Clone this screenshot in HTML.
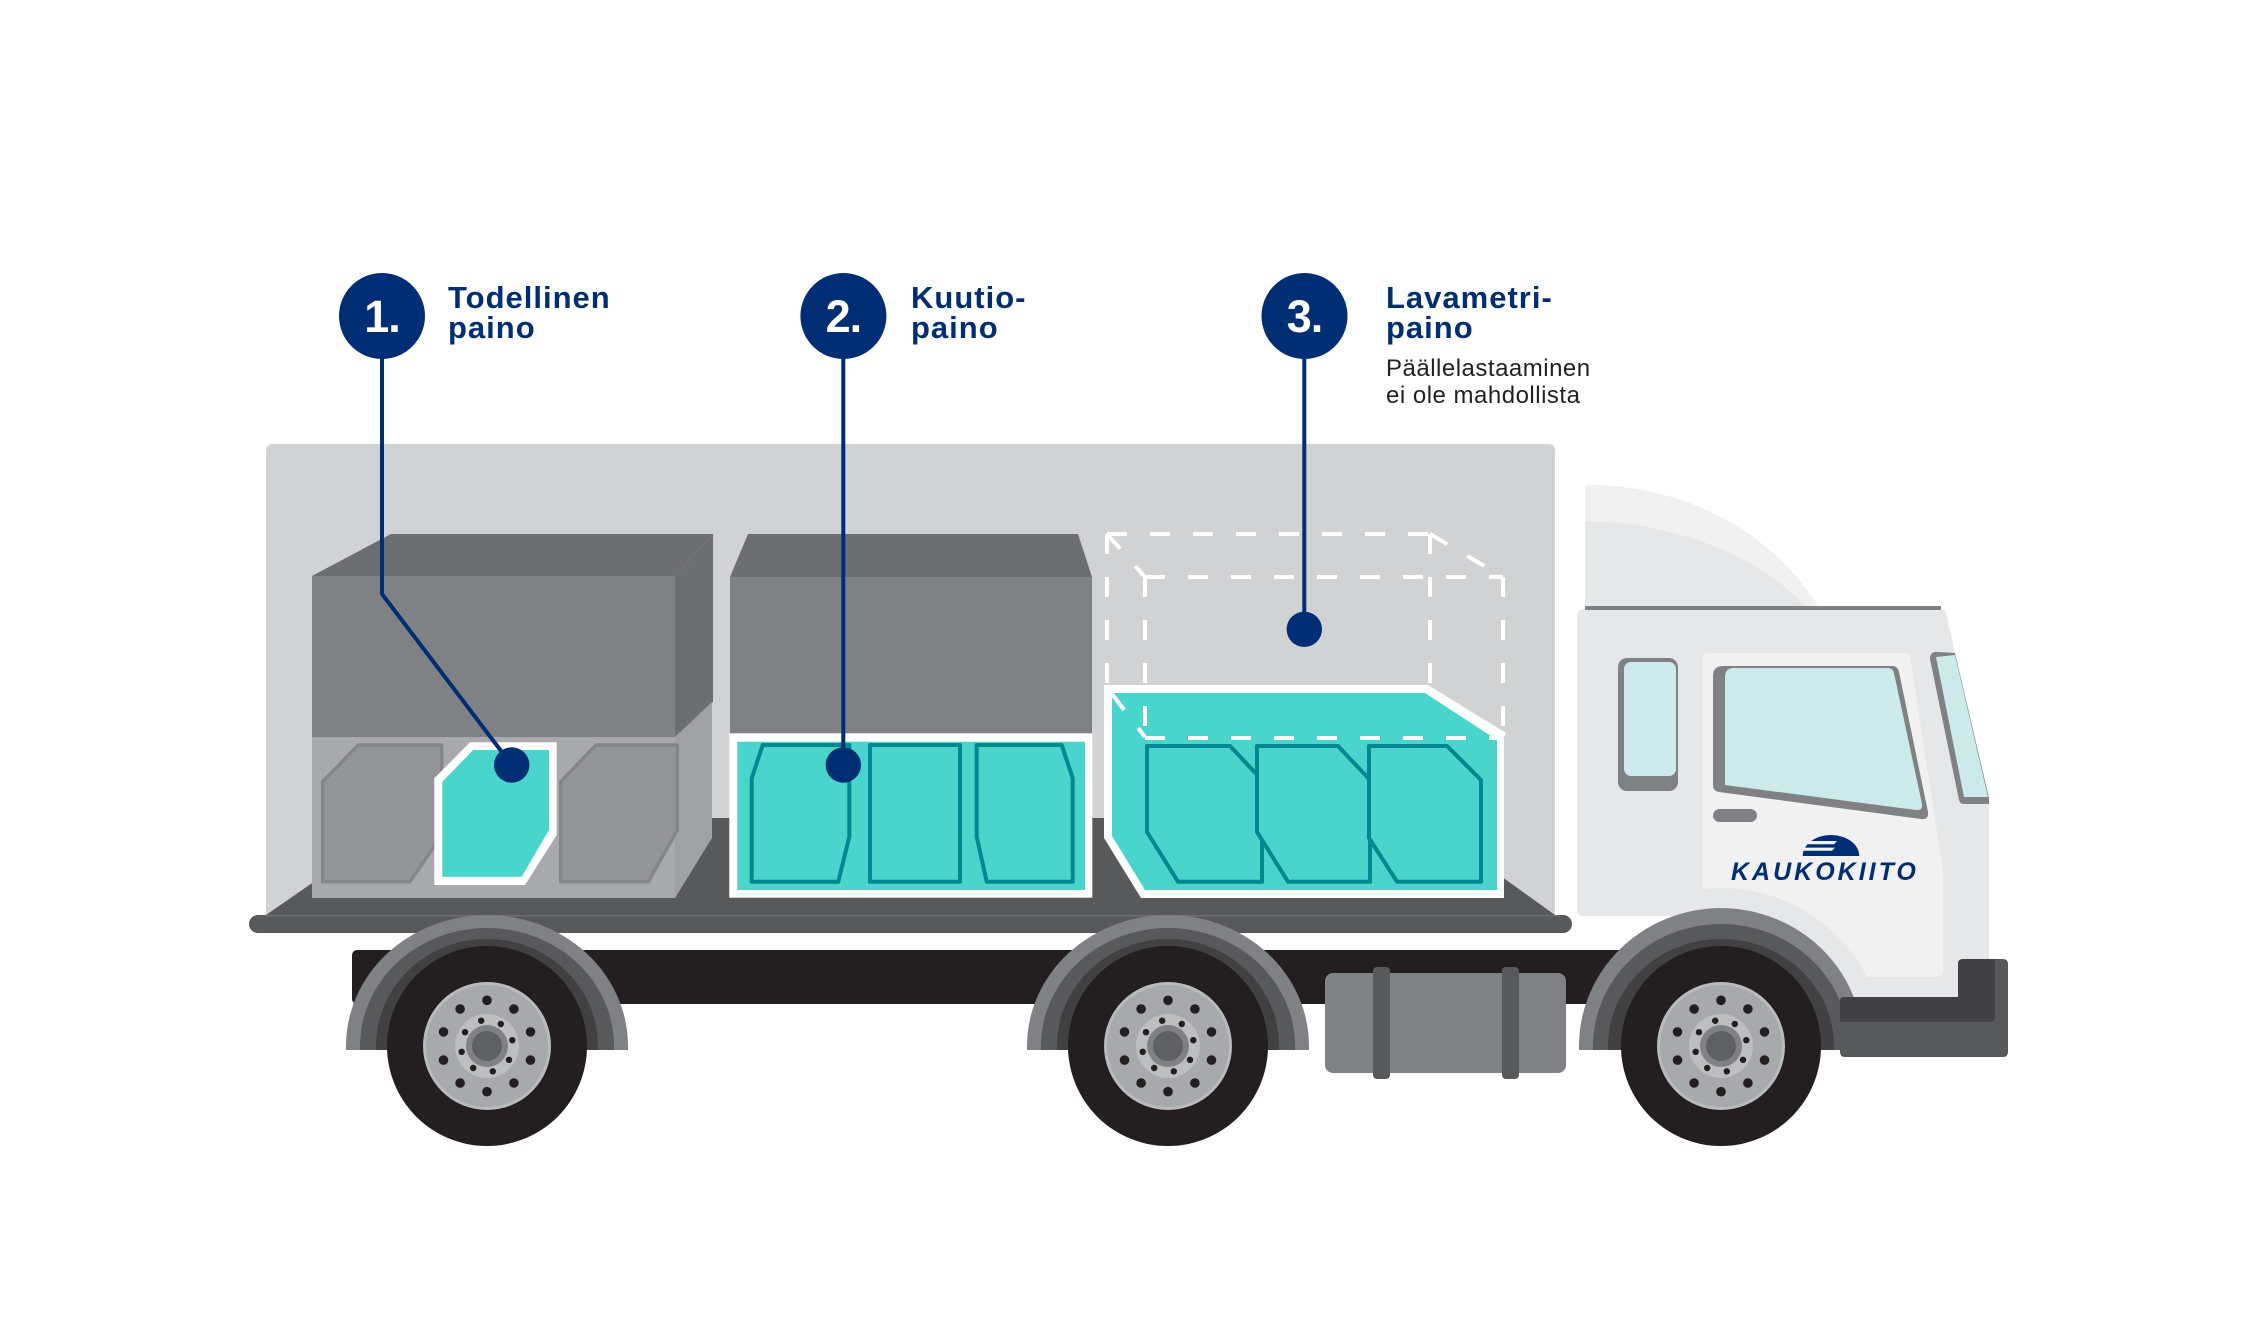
<!DOCTYPE html>
<html>
<head>
<meta charset="utf-8">
<style>
html,body{margin:0;padding:0;background:#fff;}
svg{display:block;}
text{font-family:"Liberation Sans",Arial,sans-serif;}
</style>
</head>
<body>
<svg width="2262" height="1327" viewBox="0 0 2262 1327" xmlns="http://www.w3.org/2000/svg">
<defs>
  <g id="wheel">
    <circle r="100" fill="#231f20"/>
    <circle r="64" fill="#b9bbbd"/>
    <circle r="61" fill="#a7a9ac"/>
    <circle r="32" fill="#bcbec0"/>
    <circle r="21" fill="#808184"/>
    <circle r="15" fill="#5f6062"/>
    <g fill="#231f20">
      <circle cx="0" cy="-45.7" r="4.8"/>
      <circle cx="26.9" cy="-37" r="4.8"/>
      <circle cx="43.5" cy="-14.1" r="4.8"/>
      <circle cx="43.5" cy="14.1" r="4.8"/>
      <circle cx="26.9" cy="37" r="4.8"/>
      <circle cx="0" cy="45.7" r="4.8"/>
      <circle cx="-26.9" cy="37" r="4.8"/>
      <circle cx="-43.5" cy="14.1" r="4.8"/>
      <circle cx="-43.5" cy="-14.1" r="4.8"/>
      <circle cx="-26.9" cy="-37" r="4.8"/>
      <circle cx="-5.8" cy="-25.3" r="3.2"/>
      <circle cx="13.8" cy="-22" r="3.2"/>
      <circle cx="25.3" cy="-5.8" r="3.2"/>
      <circle cx="22" cy="13.8" r="3.2"/>
      <circle cx="5.8" cy="25.3" r="3.2"/>
      <circle cx="-13.8" cy="22" r="3.2"/>
      <circle cx="-25.3" cy="5.8" r="3.2"/>
      <circle cx="-22" cy="-13.8" r="3.2"/>
    </g>
  </g>
  <clipPath id="doorclip">
    <path d="M1702,659 Q1702,653 1708,653 L1906,653 Q1909,653 1910,657 L1943,870 L1943,970 Q1943,977 1936,977 L1702,977 Z"/>
  </clipPath>
</defs>

<rect width="2262" height="1327" fill="#ffffff"/>

<!-- cargo body -->
<path d="M266,451 Q266,444 273,444 L1548,444 Q1555,444 1555,451 L1555,915 L266,915 Z" fill="#d1d2d4"/>
<!-- floor -->
<polygon points="406,818 1420,818 1555,915 266,915" fill="#58595b"/>
<!-- rail -->
<rect x="249" y="915" width="1323" height="18" rx="9" fill="#58595b"/>
<line x1="266" y1="915.7" x2="1560" y2="915.7" stroke="#6d6e70" stroke-width="1.5"/>

<!-- chassis -->
<rect x="352" y="950" width="1295" height="54" rx="5" fill="#231f20"/>
<!-- fuel tank -->
<rect x="1325" y="973" width="241" height="100" rx="8" fill="#808184"/>
<rect x="1373" y="967" width="17" height="112" rx="4" fill="#58595b"/>
<rect x="1502" y="967" width="17" height="112" rx="4" fill="#58595b"/>

<!-- BOX 1 -->
<polygon points="312,576 391,534 713,534 675,576" fill="#6d6e70"/>
<polygon points="675,576 713,534 713,702 675,737" fill="#6d6e70"/>
<polygon points="675,737 712,702 712,838 675,898" fill="#9fa1a4"/>
<rect x="312" y="576" width="363" height="161" fill="#808184"/>
<rect x="312" y="737" width="363" height="161" fill="#a7a9ac"/>
<polygon points="322.7,781.7 358.3,745 441.7,745 441.7,835 410,881.7 322.7,881.7" fill="#939598" stroke="#85868a" stroke-width="3.5" stroke-linejoin="round"/>
<polygon points="560.7,781.7 596,745 677.3,745 677.3,830 648.3,881.7 560.7,881.7" fill="#939598" stroke="#85868a" stroke-width="3.5" stroke-linejoin="round"/>
<polygon points="434.3,778.3 470,742.3 556.7,742.3 556.7,835 525,885 434.3,885" fill="#ffffff"/>
<polygon points="442.3,781.7 473.3,750 549,750 549,830 521.7,876.7 442.3,876.7" fill="#49d4cc"/>

<!-- BOX 2 -->
<polygon points="748,534 1078,534 1092,577 730,577" fill="#6d6e70"/>
<rect x="730" y="577" width="362" height="157" fill="#808184"/>
<rect x="729.3" y="733.3" width="363" height="164.4" fill="#ffffff"/>
<rect x="737.3" y="741.7" width="347.7" height="148.3" fill="#49d4cc"/>
<g fill="#49d4cc" stroke="#00878f" stroke-width="4" stroke-linejoin="round">
  <polygon points="751.7,778.3 762.7,745 849.3,745 849.3,836.7 838.3,881.7 751.7,881.7"/>
  <rect x="870" y="745" width="90" height="136.7"/>
  <polygon points="976.7,745 1061.7,745 1072.7,778.3 1072.7,881.7 986.7,881.7 976.7,836.7"/>
</g>

<!-- BOX 3 dashed ghost (back part) -->
<g stroke="#ffffff" stroke-width="4" fill="none" stroke-dasharray="20 23">
  <path d="M1107,534 L1430,534"/>
  <path d="M1107,534 L1145,577"/>
  <path d="M1430,534 L1503,577"/>
  <path d="M1145,577 L1503,577"/>
  <path d="M1107,534 L1107,685"/>
  <path d="M1430,534 L1430,685"/>
</g>
<!-- BOX 3 cargo -->
<polygon points="1104,685 1428,685 1506,733 1504,737 1504,898 1141,898 1104,838" fill="#ffffff"/>
<polygon points="1112,693 1425,693 1497,740 1497,890 1145,890 1112,836" fill="#49d4cc"/>
<g fill="#49d4cc" stroke="#00878f" stroke-width="4" stroke-linejoin="round">
  <polygon points="1147,746 1230,746 1262,780 1262,881.7 1178,881.7 1147,832"/>
  <polygon points="1257,746 1338,746 1370,780 1370,881.7 1288,881.7 1257,832"/>
  <polygon points="1369,746 1447,746 1481,780 1481,881.7 1397,881.7 1369,838"/>
</g>
<g stroke="#ffffff" stroke-width="4" fill="none" stroke-dasharray="20 23">
  <path d="M1145,577 L1145,737"/>
  <path d="M1503,577 L1503,737"/>
  <path d="M1145,738 L1497,738"/>
  <path d="M1112,694 L1145,737"/>
</g>

<!-- CAB -->
<path d="M1585,609 L1585,491 Q1585,485 1591,485 C1690,486 1775,535 1820,609 Z" fill="#f1f1f2"/>
<path d="M1585,609 L1585,521 C1680,522 1765,560 1808,609 Z" fill="#e6e7e8"/>
<path d="M1577,617 Q1577,609 1585,609 L1941,609 Q1945,609 1946,613 L1989,803 L1989,997 L1700,997 L1700,916 L1583,916 Q1577,916 1577,910 Z" fill="#e6e7e8"/>
<rect x="1585" y="606" width="356" height="4" fill="#808184"/>
<path d="M1702,659 Q1702,653 1708,653 L1906,653 Q1909,653 1910,657 L1943,870 L1943,970 Q1943,977 1936,977 L1702,977 Z" fill="#f1f1f2"/>
<ellipse cx="1721" cy="1046" rx="162" ry="158" fill="#e6e7e8" clip-path="url(#doorclip)"/>

<!-- side window -->
<rect x="1618" y="658" width="60" height="133" rx="9" fill="#808184"/>
<rect x="1624" y="662" width="52" height="114" rx="7" fill="#cdeaea"/>
<!-- door window -->
<path d="M1713,676 Q1713,666 1723,666 L1892,666 Q1898,666 1899,672 L1928,812 Q1929,820 1921,819 L1719,792 Q1713,791 1713,785 Z" fill="#808184"/>
<path d="M1725,677 Q1725,668 1734,668 L1888,668 Q1893,668 1894,673 L1922,804 Q1923,811 1916,810 L1725,785 Z" fill="#cdeaea"/>
<!-- windshield -->
<path d="M1930,659 Q1930,651 1938,652 L1955,653 L1989,798 L1989,804 L1964,804 Q1960,804 1959,800 Z" fill="#808184"/>
<path d="M1936,657 L1955,655 L1988,797 L1964,797 Z" fill="#cdeaea"/>
<!-- handle -->
<rect x="1713" y="809" width="44" height="13" rx="6.5" fill="#808184"/>

<!-- logo -->
<path d="M1802.7,856 A28.3,21 0 0 1 1859.3,856 Z" fill="#002e74"/>
<polygon points="1798,841 1837,841 1834,844.2 1798,844.2" fill="#f1f1f2"/>
<polygon points="1798,847.6 1835,847.6 1832,850.8 1798,850.8" fill="#f1f1f2"/>
<text x="1731" y="880" font-size="25" font-weight="bold" font-style="italic" letter-spacing="3" fill="#002e74">KAUKOKIITO</text>

<!-- FENDERS + WHEELS -->
<path d="M346,1050 L346,1046 A141,131 0 0 1 628,1046 L628,1050 Z" fill="#808184"/>
<path d="M360,1050 L360,1046 A127,118 0 0 1 614,1046 L614,1050 Z" fill="#58595b"/>
<path d="M376,1050 L376,1046 A111,107 0 0 1 598,1046 L598,1050 Z" fill="#414042"/>
<use href="#wheel" x="487" y="1046"/>

<path d="M1027,1050 L1027,1046 A141,131 0 0 1 1309,1046 L1309,1050 Z" fill="#808184"/>
<path d="M1041,1050 L1041,1046 A127,118 0 0 1 1295,1046 L1295,1050 Z" fill="#58595b"/>
<path d="M1057,1050 L1057,1046 A111,107 0 0 1 1279,1046 L1279,1050 Z" fill="#414042"/>
<use href="#wheel" x="1168" y="1046"/>

<path d="M1579,1050 L1579,1046 A142,138 0 0 1 1863,1046 L1863,1050 Z" fill="#808184"/>
<path d="M1593,1050 L1593,1046 A128,122 0 0 1 1849,1046 L1849,1050 Z" fill="#58595b"/>
<path d="M1608,1050 L1608,1046 A113,107 0 0 1 1834,1046 L1834,1050 Z" fill="#414042"/>
<use href="#wheel" x="1721" y="1046"/>

<!-- bumper -->
<path d="M1840,1001 Q1840,997 1844,997 L1958,997 L1958,964 Q1958,959 1963,959 L2003,959 Q2008,959 2008,964 L2008,1052 Q2008,1057 2003,1057 L1845,1057 Q1840,1057 1840,1052 Z" fill="#58595b"/>
<path d="M1840,1001 Q1840,997 1844,997 L1958,997 L1958,964 Q1958,959 1963,959 L1995,959 L1995,1017 Q1995,1022 1990,1022 L1840,1022 Z" fill="#414042"/>

<!-- LEADERS -->
<g stroke="#002e74" stroke-width="4" fill="none" stroke-linejoin="round">
  <path d="M382,350 L382,594 L511.7,765"/>
  <path d="M843.3,350 L843.3,765"/>
  <path d="M1304.3,350 L1304.3,629"/>
</g>
<g fill="#002e74">
  <circle cx="511.7" cy="765" r="17.7"/>
  <circle cx="843.3" cy="765" r="17.7"/>
  <circle cx="1304.3" cy="629.3" r="17.7"/>
  <circle cx="382" cy="316" r="43"/>
  <circle cx="843.4" cy="316" r="43"/>
  <circle cx="1304.5" cy="316" r="43"/>
</g>
<g fill="#ffffff" font-size="45" font-weight="bold" text-anchor="middle" letter-spacing="-1">
  <text x="382" y="332">1.</text>
  <text x="843.4" y="332">2.</text>
  <text x="1304.5" y="332">3.</text>
</g>
<g fill="#002e74" font-size="31" font-weight="bold" letter-spacing="1">
  <text x="448" y="308">Todellinen</text>
  <text x="448" y="338">paino</text>
  <text x="911" y="308">Kuutio-</text>
  <text x="911" y="338">paino</text>
  <text x="1386" y="308">Lavametri-</text>
  <text x="1386" y="338">paino</text>
</g>
<g fill="#231f20" font-size="24" letter-spacing="0.5">
  <text x="1386" y="376">Päällelastaaminen</text>
  <text x="1386" y="403">ei ole mahdollista</text>
</g>
</svg>
</body>
</html>
